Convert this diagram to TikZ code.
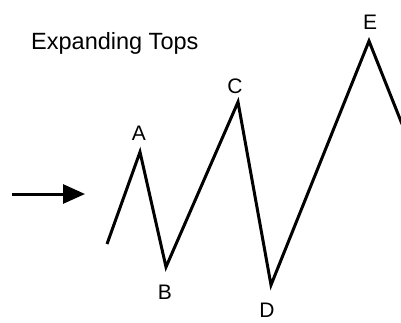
\documentclass[tikz,border=0pt]{standalone}
\usepackage{fontspec}
\setmainfont{Liberation Sans}
\usetikzlibrary{arrows.meta}
\begin{document}
\begin{tikzpicture}[x=1pt,y=-1pt,
  lbl/.style={inner sep=0pt,font=\fontsize{21}{25}\selectfont},
  wave/.style={line width=3pt,line join=miter,line cap=butt},
  pointer/.style={line width=3pt,-{Triangle[length=22pt,width=19pt]}}]
\useasboundingbox (0,0) rectangle (401,322);
\fill[white] (0,0) rectangle (401,322);
% title
\node[lbl,anchor=base west,font=\fontsize{23.5}{27}\selectfont] (title) at (31,49) {Expanding Tops};
% wave points
\coordinate (s) at (107,244);
\coordinate (pA) at (140,152);
\coordinate (pB) at (166,267);
\coordinate (pC) at (238,102);
\coordinate (pD) at (271,285);
\coordinate (pE) at (369,41);
\coordinate (end) at (402,124);
\draw[wave] (s) -- (pA) -- (pB) -- (pC) -- (pD) -- (pE) -- (end);
% labels
\node[lbl] (A) at (139,133) {A};
\node[lbl] (B) at (165,292) {B};
\node[lbl] (C) at (235,86) {C};
\node[lbl] (D) at (267,310) {D};
\node[lbl] (E) at (370,22) {E};
% arrow
\coordinate (a0) at (12,194);
\coordinate (a1) at (85,194);
\draw[pointer] (a0) -- (a1);
\end{tikzpicture}
\end{document}
